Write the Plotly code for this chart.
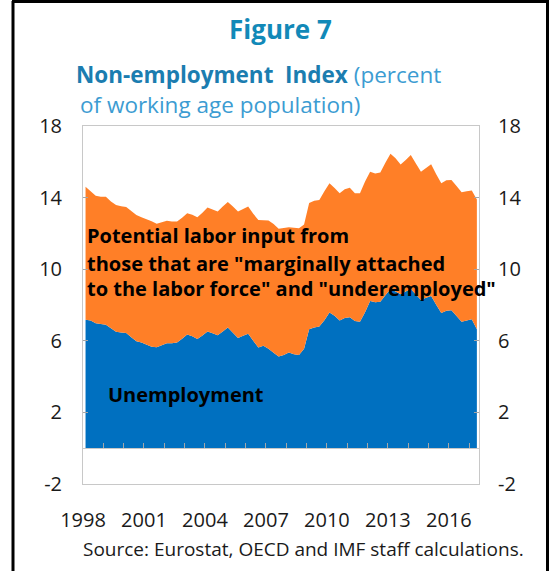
import plotly.graph_objects as go
import pandas as pd

# ---------------- data (quarterly, 1998Q1 - 2017Q2) ----------------
quarters = pd.period_range("1998Q1", "2017Q2", freq="Q")

unemployment = [
    7.18, 7.14, 6.98, 6.93, 6.90, 6.70, 6.50, 6.46, 6.43, 6.20,
    5.98, 5.90, 5.79, 5.67, 5.64, 5.76, 5.87, 5.87, 5.90, 6.12,
    6.35, 6.26, 6.10, 6.30, 6.52, 6.42, 6.31, 6.52, 6.74, 6.45,
    6.16, 6.28, 6.40, 6.00, 5.63, 5.73, 5.56, 5.33, 5.12, 5.20,
    5.35, 5.25, 5.21, 5.55, 6.65, 6.74, 6.80, 7.15, 7.58, 7.40,
    7.13, 7.28, 7.32, 7.10, 7.07, 7.60, 8.22, 8.15, 8.18, 8.55,
    8.90, 8.75, 8.60, 8.75, 8.90, 8.58, 8.28, 8.40, 8.50, 8.02,
    7.55, 7.68, 7.70, 7.38, 7.07, 7.14, 7.20, 6.65,
]

nonemployment_total = [
    14.60, 14.35, 14.10, 14.05, 14.05, 13.78, 13.58, 13.52, 13.48, 13.25,
    13.03, 12.90, 12.80, 12.68, 12.54, 12.64, 12.71, 12.66, 12.66, 12.88,
    13.12, 13.04, 12.90, 13.16, 13.44, 13.34, 13.22, 13.50, 13.76, 13.50,
    13.22, 13.37, 13.50, 13.10, 12.75, 12.73, 12.72, 12.52, 12.26, 12.30,
    12.35, 12.32, 12.29, 12.50, 13.70, 13.82, 13.87, 14.35, 14.80, 14.53,
    14.25, 14.47, 14.55, 14.25, 14.24, 14.90, 15.45, 15.35, 15.40, 15.95,
    16.45, 16.20, 15.85, 16.10, 16.38, 15.90, 15.45, 15.65, 15.87, 15.30,
    14.80, 14.97, 14.98, 14.65, 14.30, 14.36, 14.40, 13.90,
]

year_labels = [1998, 2001, 2004, 2007, 2010, 2013, 2016]
year_ticks = list(range(1999, 2018))
y_ticks = [-2, 2, 6, 10, 14, 18]

x = [p.year + (p.quarter - 0.5) / 4 for p in quarters]
y_text = [str(v) for v in y_ticks]  # ASCII hyphen for "-2"

BLUE = "#0070C0"
ORANGE = "#FF7F27"
FRAME = "#C8C8C8"
TICK = "#A6A6A6"
TEAL = "#1289B8"
TEAL_DARK = "#1B7DB0"
TEAL_LIGHT = "#3C9CD2"
TXT = "#1a1a1a"
FONT = "Open Sans"

fig = go.Figure()
fig.add_trace(go.Scatter(
    x=x, y=unemployment, mode="lines", line=dict(width=0, color=BLUE),
    fill="tozeroy", fillcolor=BLUE, name="Unemployment", hoverinfo="skip",
))
fig.add_trace(go.Scatter(
    x=x, y=nonemployment_total, mode="lines", line=dict(width=0, color=ORANGE),
    fill="tonexty", fillcolor=ORANGE, name="Non-employment", hoverinfo="skip",
))
# helper trace so the secondary axes are built
fig.add_trace(go.Scatter(x=[], y=[], xaxis="x2", yaxis="y2", showlegend=False))

fig.update_layout(
    width=549, height=571,
    margin=dict(l=83, r=70, t=126, b=87),
    paper_bgcolor="white", plot_bgcolor="white",
    showlegend=False,
    font=dict(family=FONT, color=TXT),
    xaxis=dict(
        range=[1998, 2017.48], tickvals=year_labels, ticktext=[str(v) for v in year_labels],
        ticks="", showline=True, linecolor=FRAME, linewidth=1, mirror=True,
        showgrid=False, zeroline=False, tickfont=dict(size=20, color=TXT, family=FONT),
        ticklabelstandoff=18,
    ),
    xaxis2=dict(
        overlaying="x", matches="x", anchor="free", position=0.1, side="bottom",
        showline=True, linecolor=FRAME, linewidth=1,
        tickvals=year_ticks, ticks="inside", ticklen=5, tickcolor=TICK, tickwidth=1,
        showticklabels=False, showgrid=False, zeroline=False,
    ),
    yaxis=dict(
        range=[-2, 18], tickvals=y_ticks, ticktext=y_text, ticks="inside", ticklen=5,
        tickcolor=TICK, showline=True, linecolor=FRAME, linewidth=1, mirror="ticks",
        showgrid=False, zeroline=False, tickfont=dict(size=20, color=TXT, family=FONT),
        ticklabelstandoff=16,
    ),
    yaxis2=dict(
        overlaying="y", matches="y", side="right", anchor="x2",
        tickvals=y_ticks, ticktext=y_text,
        ticks="", showline=False, showgrid=False, zeroline=False,
        tickfont=dict(size=20, color=TXT, family=FONT), ticklabelstandoff=18,
    ),
)

# titles
fig.add_annotation(
    text="<b>Figure 7</b>", xref="paper", yref="paper", x=0.499, y=1.271,
    xanchor="center", yanchor="middle", showarrow=False,
    font=dict(size=26, color=TEAL, family=FONT),
)
fig.add_annotation(
    text=f"<b>Non-employment  Index</b> <span style='color:{TEAL_LIGHT}'>(percent</span>",
    xref="paper", yref="paper", x=-0.022, y=1.145, xanchor="left", yanchor="middle",
    showarrow=False, font=dict(size=22.5, color=TEAL_DARK, family=FONT),
)
fig.add_annotation(
    text="of working age population)",
    xref="paper", yref="paper", x=-0.012, y=1.059, xanchor="left", yanchor="middle",
    showarrow=False, font=dict(size=22.5, color=TEAL_LIGHT, family=FONT),
)

# in-chart labels
label_font = dict(size=20, color="black", family=FONT)
for txt, yy in [
    ("<b>Potential labor input from</b>", 0.693),
    ('<b>those that are "marginally attached</b>', 0.617),
    ('<b>to the labor force" and "underemployed"</b>', 0.545),
]:
    fig.add_annotation(text=txt, xref="paper", yref="paper", x=0.006, y=yy,
                       xanchor="left", yanchor="middle", showarrow=False, font=label_font)
fig.add_annotation(text="<b>Unemployment</b>", xref="paper", yref="paper", x=0.058, y=0.251,
                   xanchor="left", yanchor="middle", showarrow=False, font=label_font)

# source
fig.add_annotation(
    text="Source: Eurostat, OECD and IMF staff calculations.",
    xref="paper", yref="paper", x=0.557, y=-0.182, xanchor="center", yanchor="middle",
    showarrow=False, font=dict(size=19, color=TXT, family=FONT),
)

# outer black frame (left, top, right)
fig.add_shape(type="line", xref="paper", yref="paper",
              x0=(13 - 83) / 396, x1=(13 - 83) / 396, y0=(484 - 571) / 358, y1=(484 - 1) / 358,
              line=dict(color="black", width=3))
fig.add_shape(type="line", xref="paper", yref="paper",
              x0=(12 - 83) / 396, x1=(549 - 83) / 396, y0=(484 - 1.5) / 358, y1=(484 - 1.5) / 358,
              line=dict(color="black", width=3))
fig.add_shape(type="line", xref="paper", yref="paper",
              x0=(547.5 - 83) / 396, x1=(547.5 - 83) / 396, y0=(484 - 571) / 358, y1=(484 - 1) / 358,
              line=dict(color="black", width=3))

fig.write_html(
    "out.html",
    config={"displayModeBar": False, "staticPlot": True},
    post_script="document.body.style.margin='0';document.body.style.padding='0';"
                "document.body.style.overflow='hidden';",
)
